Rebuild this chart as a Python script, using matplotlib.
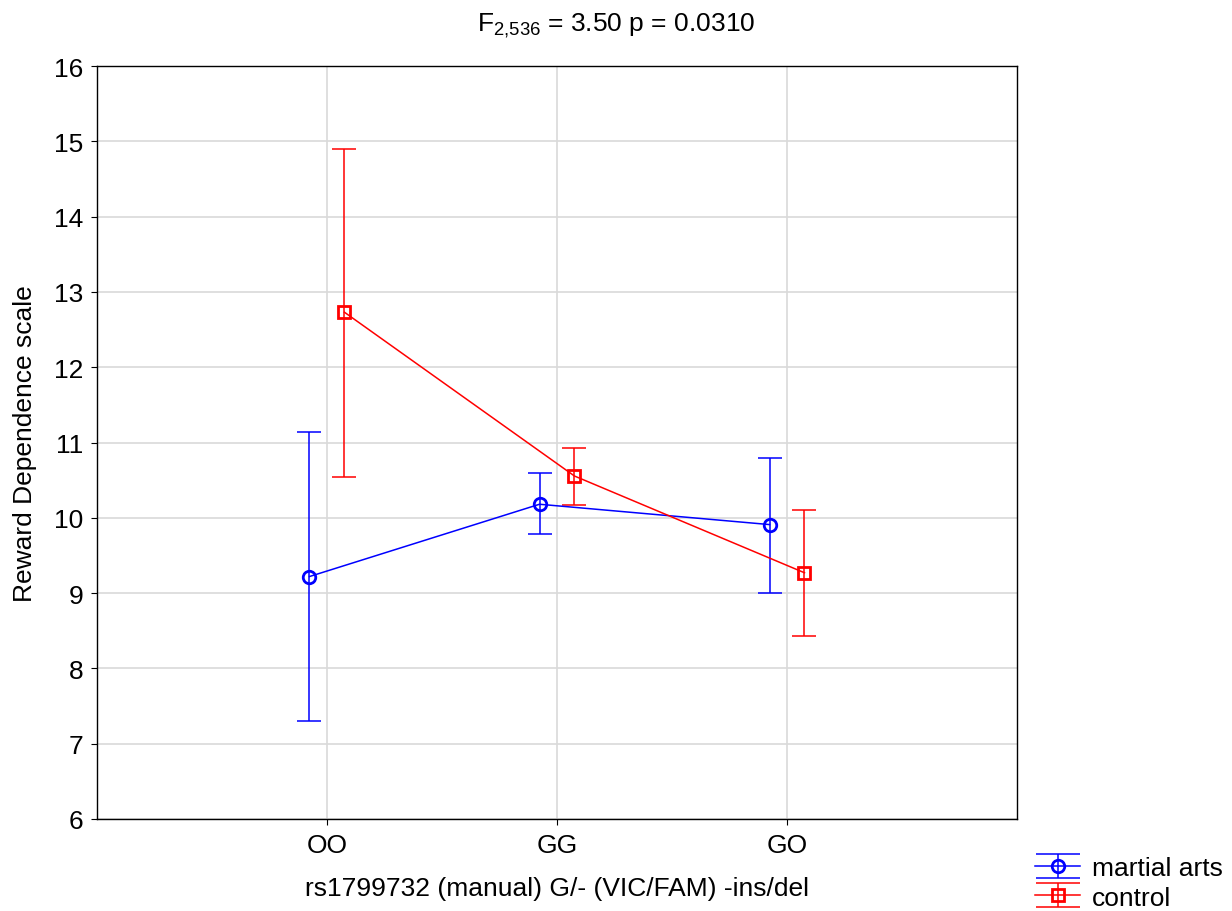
import matplotlib
matplotlib.use("Agg")
import matplotlib.pyplot as plt
from matplotlib.legend_handler import HandlerErrorbar
from matplotlib.lines import Line2D
import numpy as np

plt.rcParams['font.family'] = ['Liberation Sans', 'DejaVu Sans']
plt.rcParams['mathtext.default'] = 'regular'

categories = ["OO", "GG", "GO"]
martial_mean = [9.22, 10.18, 9.91]
martial_low = [7.30, 9.78, 9.00]
martial_high = [11.14, 10.59, 10.80]
control_mean = [12.73, 10.555, 9.27]
control_low = [10.54, 10.17, 8.43]
control_high = [14.90, 10.93, 10.10]

FS = 19

fig = plt.figure(figsize=(12.32, 9.12), dpi=100)
ax = fig.add_axes([0.0787, 0.1009, 0.8255 - 0.0787, 0.9265 - 0.1009])

x = np.arange(1, len(categories) + 1)
off = 0.076

def draw(xs, mean, low, high, color, marker, label):
    mean = np.array(mean); low = np.array(low); high = np.array(high)
    c = ax.errorbar(xs, mean, yerr=[mean - low, high - mean], color=color,
                    marker=marker, markersize=9, markerfacecolor='none',
                    linewidth=1.1, capsize=8.5, elinewidth=1.1,
                    capthick=1.1, label=label, zorder=3)
    c.lines[0].set_markeredgewidth(2)
    return c

draw(x - off, martial_mean, martial_low, martial_high, '#0000ff', 'o', 'martial arts')
draw(x + off, control_mean, control_low, control_high, '#ff0000', 's', 'control')

ax.set_xlim(0, 4)
ax.set_ylim(6, 16)
ax.set_xticks(x)
ax.set_xticklabels(categories)
ax.set_yticks(np.arange(6, 17, 1))
ax.grid(True, color='#d9d9d9', linewidth=1.2)
ax.set_axisbelow(True)
for s in ax.spines.values():
    s.set_color('black')
    s.set_linewidth(1)
ax.tick_params(labelsize=FS, direction='out', length=4, color='black', pad=6)
ax.set_xlabel("rs1799732 (manual) G/- (VIC/FAM) -ins/del", fontsize=FS, labelpad=14)
ax.set_ylabel("Reward Dependence scale", fontsize=FS, labelpad=12)
fig.text(0.5, 0.972, "F$_{2{,}536}$ = 3.50 p = 0.0310", fontsize=FS,
         ha='center', va='center')


class WideCapHandler(HandlerErrorbar):
    def create_artists(self, *args, **kwargs):
        arts = super().create_artists(*args, **kwargs)
        for a in arts:
            if isinstance(a, Line2D) and a.get_marker() == '_':
                a.set_markersize(32)
                a.set_markeredgewidth(1.1)
        return arts


handles, labels = ax.get_legend_handles_labels()
leg = ax.legend(handles, labels, loc='lower left', bbox_to_anchor=(1.0086, -0.1343),
                frameon=False, fontsize=FS, handlelength=1.7, borderaxespad=0,
                handletextpad=0.45, labelspacing=0.2,
                handler_map={type(handles[0]): WideCapHandler(yerr_size=0.45)})

fig.savefig("out.png", dpi=100)
